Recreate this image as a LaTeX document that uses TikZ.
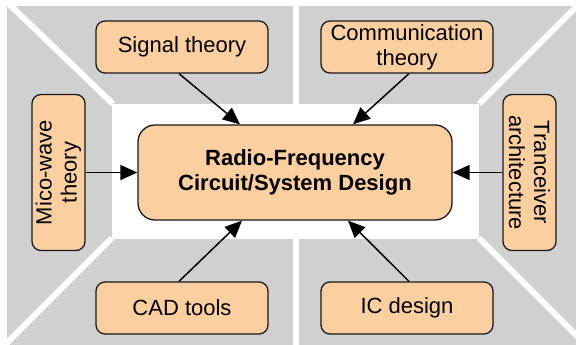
\documentclass[tikz,border=0pt]{standalone}
\usepackage{fontspec}
\setmainfont{Liberation Sans}
\usetikzlibrary{arrows.meta}
\definecolor{panelgrey}{RGB}{208,208,208}
\definecolor{peach}{RGB}{251,207,160}

\begin{document}
\begin{tikzpicture}[x=1pt,y=-1pt,
  topic/.style={draw=black!90, line width=1.3pt, fill=peach, rounded corners=9pt,
    align=center, inner sep=0pt, font=\fontsize{22}{25}\selectfont,
    minimum width=172pt, minimum height=52pt},
  sidetopic/.style={topic, minimum width=156pt, minimum height=53pt},
  core/.style={topic, rounded corners=17pt, font=\fontsize{22}{25}\selectfont\bfseries,
    minimum width=314pt, minimum height=95pt},
  link/.style={line width=1.5pt, -{Triangle[length=17pt,width=15pt]}},
  gap/.style={white, line width=6pt}]

\useasboundingbox (0,0) rectangle (576,345);

% grey panels separated by white gaps
\fill[panelgrey] (7,6) rectangle (576,345);
\begin{scope}
  \clip (7,6) rectangle (576,345);
  \draw[gap] (113,104) -- (9,4);
  \draw[gap] (479,104) -- (579,4);
  \draw[gap] (112,238) -- (5,345);
  \draw[gap] (479,238) -- (586,345);
  \draw[gap] (296,0) -- (296,110);
  \draw[gap] (296,230) -- (296,345);
\end{scope}
\fill[white] (112,104) rectangle (479,239);

% topics
\node[core] (core) at (295,172.5) {Radio-Frequency\\Circuit/System Design};
\node[topic] (signal) at (182,47) {Signal theory};
\node[topic] (comm) at (407,47) {Communication\\theory};
\node[topic] (cad) at (182,308) {CAD tools};
\node[topic] (ic) at (407,308) {IC design};
\node[sidetopic, rotate=90] (mico) at (58.5,172.5) {Mico-wave\\theory};
\node[sidetopic, rotate=-90] (trx) at (529.5,172.5) {Tranceiver\\architecture};

% influences on the core
\draw[link] ([xshift=-3pt]signal.south) -- ([xshift=-55pt]core.north);
\draw[link] ([xshift=2pt]comm.south) -- ([xshift=58pt]core.north);
\draw[link] ([xshift=-3pt]cad.north) -- ([xshift=-53pt]core.south);
\draw[link] ([xshift=2pt]ic.north) -- ([xshift=53pt]core.south);
\draw[link] (mico) -- (core);
\draw[link] (trx) -- (core);
\end{tikzpicture}
\end{document}
